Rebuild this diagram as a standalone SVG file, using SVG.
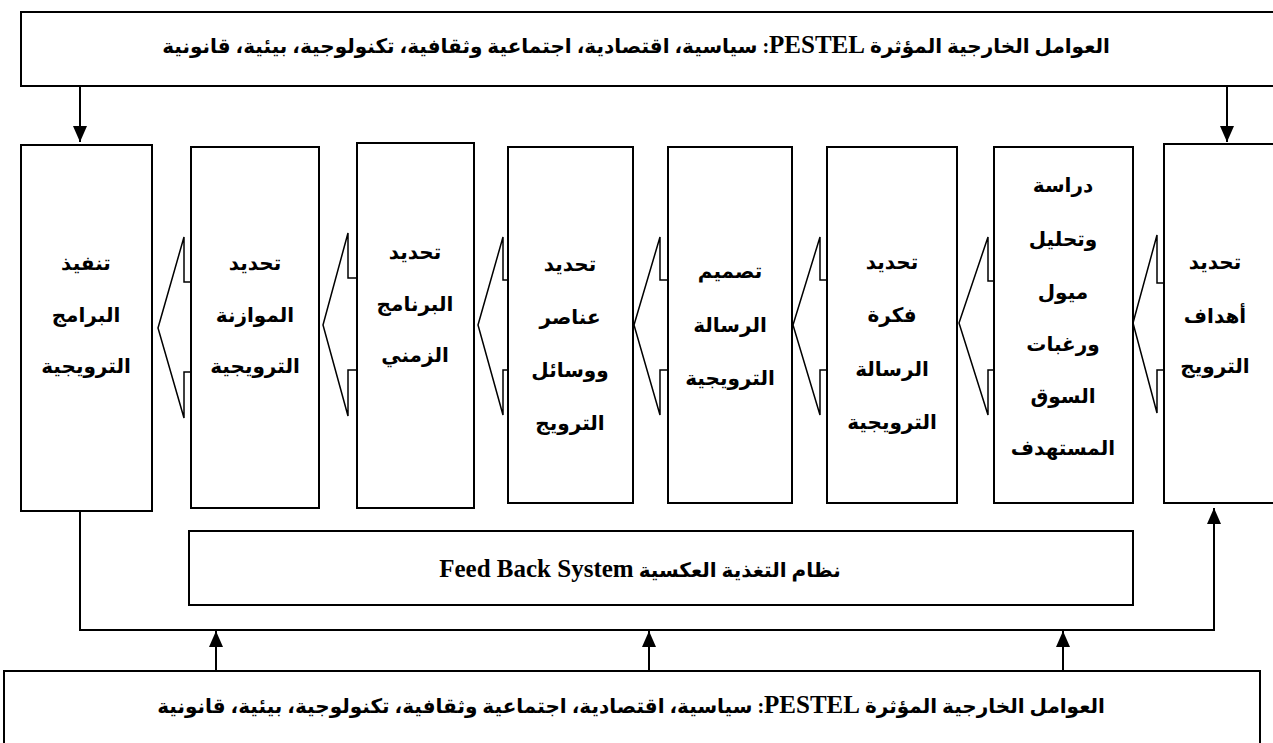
<svg xmlns="http://www.w3.org/2000/svg" width="1273" height="743" viewBox="0 0 1273 743">
<style>
  .box { fill: #fff; stroke: #000; stroke-width: 2; }
  .barrow { fill: #fff; stroke: #000; stroke-width: 1.5; stroke-linejoin: miter; }
  .line { fill: none; stroke: #000; stroke-width: 2; }
  .t { font-family: "Liberation Serif", "DejaVu Sans", serif; font-weight: bold; font-size: 20px; fill: #000; text-anchor: middle; direction: rtl; unicode-bidi: embed; }
  .big { font-family: "Liberation Serif", "DejaVu Sans", serif; font-weight: bold; font-size: 20px; fill: #000; text-anchor: middle; direction: rtl; unicode-bidi: embed; }
  .lat { font-family: "Liberation Serif", serif; font-size: 25px; }
</style>
<defs>
  <marker id="ah" markerUnits="userSpaceOnUse" markerWidth="16" markerHeight="16" viewBox="0 0 16 16" refX="16" refY="8" orient="auto">
    <path d="M0,1 L16,8 L0,15 Z" fill="#000"/>
  </marker>
</defs>

<g id="top-factors">
  <rect class="box" x="21" y="12" width="1270" height="74"/>
  <text class="big" x="636" y="53">العوامل الخارجية المؤثرة <tspan class="lat">PESTEL</tspan>: سياسية، اقتصادية، اجتماعية وثقافية، تكنولوجية، بيئية، قانونية</text>
</g>

<g id="connectors">
  <polygon class="barrow" points="158,328 184,237 184,282 200,282 200,372 184,372 184,418"/>
  <polygon class="barrow" points="323,325 348,233 348,278 365,278 365,370 348,370 348,416"/>
  <polygon class="barrow" points="478,325 503,237 503,280 515,280 515,370 503,370 503,415"/>
  <polygon class="barrow" points="634,325 660,237 660,280 675,280 675,370 660,370 660,415"/>
  <polygon class="barrow" points="793,325 820,237 820,280 835,280 835,370 820,370 820,415"/>
  <polygon class="barrow" points="959,323 988,237 988,281 1000,281 1000,370 988,370 988,415"/>
  <polygon class="barrow" points="1133,323 1157,235 1157,283 1170,283 1170,370 1157,370 1157,413"/>
  <line class="line" x1="80" y1="86" x2="80" y2="142" marker-end="url(#ah)"/>
  <line class="line" x1="1227" y1="86" x2="1227" y2="142" marker-end="url(#ah)"/>
  <path class="line" d="M80,511 V630 H1214 V508" marker-end="url(#ah)"/>
  <line class="line" x1="216" y1="671" x2="216" y2="631" marker-end="url(#ah)"/>
  <line class="line" x1="649" y1="671" x2="649" y2="631" marker-end="url(#ah)"/>
  <line class="line" x1="1063" y1="671" x2="1063" y2="631" marker-end="url(#ah)"/>
</g>

<g id="step-execute">
  <rect class="box" x="21" y="145" width="131" height="366"/>
  <text class="t" x="86" y="270">تنفيذ</text>
  <text class="t" x="86" y="322">البرامج</text>
  <text class="t" x="86" y="373">الترويجية</text>
</g>
<g id="step-budget">
  <rect class="box" x="191" y="147" width="128" height="361"/>
  <text class="t" x="255" y="270">تحديد</text>
  <text class="t" x="255" y="322">الموازنة</text>
  <text class="t" x="255" y="373">الترويجية</text>
</g>
<g id="step-schedule">
  <rect class="box" x="357" y="143" width="117" height="365"/>
  <text class="t" x="415" y="259">تحديد</text>
  <text class="t" x="415" y="311">البرنامج</text>
  <text class="t" x="415" y="362">الزمني</text>
</g>
<g id="step-elements">
  <rect class="box" x="508" y="147" width="125" height="356"/>
  <text class="t" x="570" y="271">تحديد</text>
  <text class="t" x="570" y="324">عناصر</text>
  <text class="t" x="570" y="377">ووسائل</text>
  <text class="t" x="570" y="430">الترويج</text>
</g>
<g id="step-design">
  <rect class="box" x="668" y="147" width="124" height="356"/>
  <text class="t" x="730" y="278">تصميم</text>
  <text class="t" x="730" y="332">الرسالة</text>
  <text class="t" x="730" y="385">الترويجية</text>
</g>
<g id="step-idea">
  <rect class="box" x="827" y="147" width="130" height="356"/>
  <text class="t" x="892" y="269">تحديد</text>
  <text class="t" x="892" y="322">فكرة</text>
  <text class="t" x="892" y="376">الرسالة</text>
  <text class="t" x="892" y="429">الترويجية</text>
</g>
<g id="step-market">
  <rect class="box" x="994" y="147" width="139" height="356"/>
  <text class="t" x="1063" y="192">دراسة</text>
  <text class="t" x="1063" y="246">وتحليل</text>
  <text class="t" x="1063" y="299">ميول</text>
  <text class="t" x="1063" y="351">ورغبات</text>
  <text class="t" x="1063" y="403">السوق</text>
  <text class="t" x="1063" y="455">المستهدف</text>
</g>
<g id="step-objectives">
  <rect class="box" x="1164" y="144" width="130" height="359"/>
  <text class="t" x="1215" y="269">تحديد</text>
  <text class="t" x="1215" y="323">أهداف</text>
  <text class="t" x="1215" y="373">الترويج</text>
</g>

<g id="feedback">
  <rect class="box" x="189" y="531" width="944" height="74"/>
  <text class="big" x="640" y="577">نظام التغذية العكسية  <tspan class="lat" font-size="26">Feed Back System</tspan></text>
</g>

<g id="bottom-factors">
  <rect class="box" x="4" y="671" width="1256" height="90"/>
  <text class="big" x="631" y="713">العوامل الخارجية المؤثرة <tspan class="lat">PESTEL</tspan>: سياسية، اقتصادية، اجتماعية وثقافية، تكنولوجية، بيئية، قانونية</text>
</g>
</svg>
